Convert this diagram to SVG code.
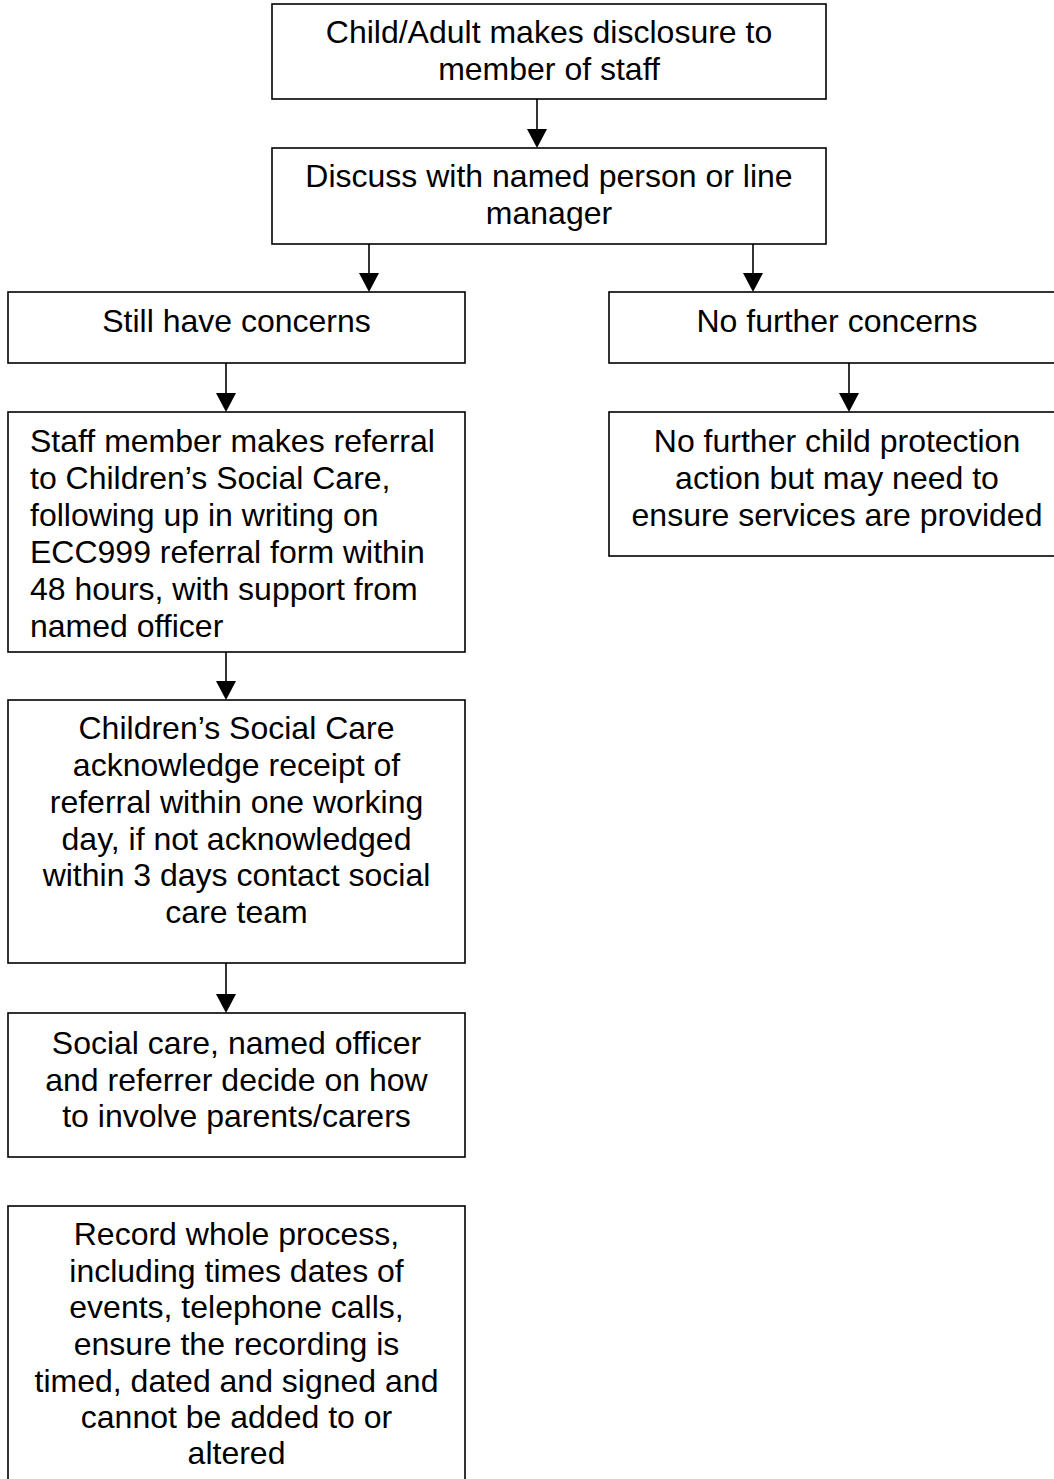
<svg xmlns="http://www.w3.org/2000/svg" width="1054" height="1479" viewBox="0 0 1054 1479">
<style>
.box{fill:#fff;stroke:#000;stroke-width:1.6}
.t{font-family:"Liberation Sans",Arial,sans-serif;font-size:32px;fill:#000}
.c{text-anchor:middle}
.ln{stroke:#000;stroke-width:1.6;fill:none}
.hd{fill:#000}
</style>
<g id="connectors">
<path class="ln" d="M537,99 V129"/><path class="hd" d="M527,129 L547,129 L537,148 Z"/>
<path class="ln" d="M369,244 V273"/><path class="hd" d="M359,273 L379,273 L369,292 Z"/>
<path class="ln" d="M753,244 V273"/><path class="hd" d="M743,273 L763,273 L753,292 Z"/>
<path class="ln" d="M226,363 V393"/><path class="hd" d="M216,393 L236,393 L226,412 Z"/>
<path class="ln" d="M849,363 V393"/><path class="hd" d="M839,393 L859,393 L849,412 Z"/>
<path class="ln" d="M226,652 V681"/><path class="hd" d="M216,681 L236,681 L226,700 Z"/>
<path class="ln" d="M226,963 V994"/><path class="hd" d="M216,994 L236,994 L226,1013 Z"/>
</g>
<g id="n1">
<rect class="box" x="272" y="4" width="554" height="95"/>
<text class="t c" x="549" y="43">Child/Adult makes disclosure to</text>
<text class="t c" x="549" y="80">member of staff</text>
</g>
<g id="n2">
<rect class="box" x="272" y="148" width="554" height="96"/>
<text class="t c" x="549" y="187">Discuss with named person or line</text>
<text class="t c" x="549" y="224">manager</text>
</g>
<g id="n3">
<rect class="box" x="8" y="292" width="457" height="71"/>
<text class="t c" x="236.5" y="332">Still have concerns</text>
</g>
<g id="n4">
<rect class="box" x="609" y="292" width="460" height="71"/>
<text class="t c" x="837" y="332">No further concerns</text>
</g>
<g id="n5">
<rect class="box" x="609" y="412" width="460" height="144"/>
<text class="t c" x="837" y="452">No further child protection</text>
<text class="t c" x="837" y="489">action but may need to</text>
<text class="t c" x="837" y="526">ensure services are provided</text>
</g>
<g id="n6">
<rect class="box" x="8" y="412" width="457" height="240"/>
<text class="t" x="30" y="452">Staff member makes referral</text>
<text class="t" x="30" y="489">to Children’s Social Care,</text>
<text class="t" x="30" y="526">following up in writing on</text>
<text class="t" x="30" y="563">ECC999 referral form within</text>
<text class="t" x="30" y="600">48 hours, with support from</text>
<text class="t" x="30" y="637">named officer</text>
</g>
<g id="n7">
<rect class="box" x="8" y="700" width="457" height="263"/>
<text class="t c" x="236.5" y="739">Children’s Social Care</text>
<text class="t c" x="236.5" y="776">acknowledge receipt of</text>
<text class="t c" x="236.5" y="813">referral within one working</text>
<text class="t c" x="236.5" y="850">day, if not acknowledged</text>
<text class="t c" x="236.5" y="886">within 3 days contact social</text>
<text class="t c" x="236.5" y="923">care team</text>
</g>
<g id="n8">
<rect class="box" x="8" y="1013" width="457" height="144"/>
<text class="t c" x="236.5" y="1054">Social care, named officer</text>
<text class="t c" x="236.5" y="1091">and referrer decide on how</text>
<text class="t c" x="236.5" y="1127">to involve parents/carers</text>
</g>
<g id="n9">
<rect class="box" x="8" y="1206" width="457" height="290"/>
<text class="t c" x="236.5" y="1245">Record whole process,</text>
<text class="t c" x="236.5" y="1282">including times dates of</text>
<text class="t c" x="236.5" y="1318">events, telephone calls,</text>
<text class="t c" x="236.5" y="1355">ensure the recording is</text>
<text class="t c" x="236.5" y="1392">timed, dated and signed and</text>
<text class="t c" x="236.5" y="1428">cannot be added to or</text>
<text class="t c" x="236.5" y="1464">altered</text>
</g>
</svg>
